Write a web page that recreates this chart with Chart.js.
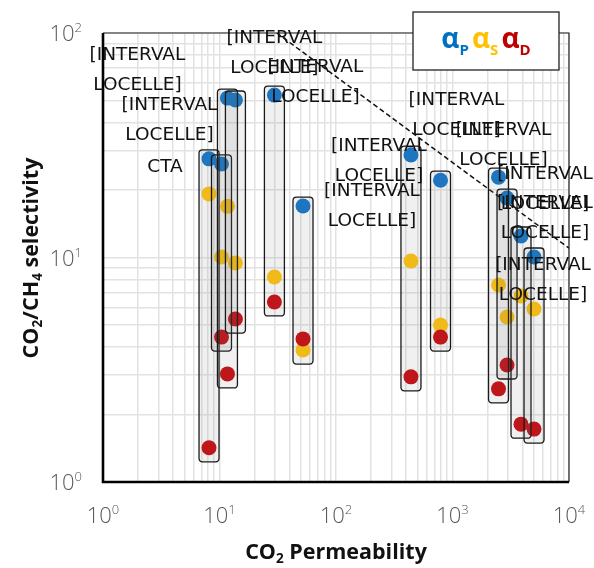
<!DOCTYPE html>
<html><head><meta charset="utf-8">
<script src="https://cdn.jsdelivr.net/npm/chart.js@4.4.1/dist/chart.umd.min.js"></script>
<style>html,body{margin:0;padding:0;background:#fff}canvas{display:block}</style>
</head><body>
<canvas id="c" width="594" height="568"></canvas>
<script>
// ---- data ----
const permeability = [8.13, 10.4, 11.7, 13.7, 29.6, 52.1, 440, 789, 2483, 2938, 3873, 5010];
const alphaP = [27.5, 26.1, 51.3, 50.3, 52.9, 16.95, 28.6, 22.1, 22.8, 18.4, 12.47, 10.05];
const alphaS = [19.2, 10.05, 16.9, 9.45, 8.19, 3.87, 9.65, 5.0, 7.54, 5.43, 6.74, 5.90];
const alphaD = [1.42, 4.42, 3.03, 5.32, 6.34, 4.34, 2.94, 4.42, 2.60, 3.32, 1.81, 1.72];
const pointLabels = ['CTA', '[INTERVAL\nLOCELLE]', '[INTERVAL\nLOCELLE]', '[INTERVAL\nLOCELLE]',
  '[INTERVAL\nLOCELLE]', '[INTERVAL\nLOCELLE]', '[INTERVAL\nLOCELLE]', '[INTERVAL\nLOCELLE]',
  '[INTERVAL\nLOCELLE]', '[INTERVAL\nLOCELLE]', '[INTERVAL\nLOCELLE]', '[INTERVAL\nLOCELLE]'];
const boundPerm = [31, 10000];
const boundSel = [100, 11];
const xTickValues = [1, 10, 100, 1000, 10000];
const yTickValues = [1, 10, 100];
const xTitle = [['CO', 'n'], ['2', 's'], [' Permeability', 'n']];
const yTitle = [['CO', 'n'], ['2', 's'], ['/CH', 'n'], ['4', 's'], [' selectivity', 'n']];
const legendItems = [['P', '#0070C0'], ['S', '#FFC000'], ['D', '#C00000']];

// ---- styles ----
const labelOffsets = [[-44, 8], [-52, -44], [-90, -28], [80, -18], [0, -42], [69, 0], [-32, 6], [16, -65], [5, -32], [38, -9], [24, -18], [9, 23]];
const COL_P = '#1578c9', COL_S = '#ffc310', COL_D = '#c80d12';

function minorTicks(lo, hi) {
  const t = [];
  for (let e = lo; e < hi; e++) for (let m = 1; m <= 9; m++) t.push({ value: m * Math.pow(10, e) });
  t.push({ value: Math.pow(10, hi) });
  return t;
}

function drawRich(ctx, parts, x, y, align) {
  let w = 0;
  parts.forEach(p => { ctx.font = p.font; w += ctx.measureText(p.t).width; });
  let cx = align === 'center' ? x - w / 2 : (align === 'right' ? x - w : x);
  ctx.textAlign = 'left'; ctx.textBaseline = 'alphabetic';
  parts.forEach(p => {
    ctx.font = p.font;
    if (p.color) ctx.fillStyle = p.color;
    ctx.fillText(p.t, cx, y + (p.dy || 0));
    cx += ctx.measureText(p.t).width;
  });
}

function roundRect(ctx, x, y, w, h, r) {
  ctx.beginPath();
  ctx.moveTo(x + r, y);
  ctx.lineTo(x + w - r, y); ctx.quadraticCurveTo(x + w, y, x + w, y + r);
  ctx.lineTo(x + w, y + h - r); ctx.quadraticCurveTo(x + w, y + h, x + w - r, y + h);
  ctx.lineTo(x + r, y + h); ctx.quadraticCurveTo(x, y + h, x, y + h - r);
  ctx.lineTo(x, y + r); ctx.quadraticCurveTo(x, y, x + r, y);
  ctx.closePath();
}

const decor = {
  id: 'decor',
  beforeDatasetsDraw(chart) {
    const { ctx, chartArea: a } = chart;
    ctx.save();
    ctx.strokeStyle = '#222'; ctx.lineWidth = 1.2;
    ctx.beginPath(); ctx.moveTo(a.left, a.top); ctx.lineTo(a.right, a.top); ctx.lineTo(a.right, a.bottom); ctx.stroke();
    ctx.strokeStyle = '#000'; ctx.lineWidth = 2.6;
    ctx.beginPath(); ctx.moveTo(a.left, a.top); ctx.lineTo(a.left, a.bottom); ctx.lineTo(a.right, a.bottom); ctx.stroke();
    ctx.restore();
  },
  afterDatasetsDraw(chart) {
    const { ctx } = chart;
    const xs = chart.scales.x, ys = chart.scales.y;
    ctx.save();
    // boxes enclosing each membrane's three selectivities
    permeability.forEach((p, i) => {
      const x = xs.getPixelForValue(p);
      const top = ys.getPixelForValue(Math.max(alphaP[i], alphaS[i], alphaD[i])) - 9;
      const bot = ys.getPixelForValue(Math.min(alphaP[i], alphaS[i], alphaD[i])) + 14;
      roundRect(ctx, x - 10, top, 20, bot - top, 3.5);
      ctx.fillStyle = 'rgba(110,110,110,0.1)';
      ctx.fill();
      ctx.strokeStyle = '#1a1a1a'; ctx.lineWidth = 1.3;
      ctx.stroke();
    });
    // data labels
    ctx.fillStyle = '#111';
    ctx.font = '18.5px "DejaVu Sans"';
    ctx.textAlign = 'center'; ctx.textBaseline = 'middle';
    permeability.forEach((p, i) => {
      const x = xs.getPixelForValue(p) + labelOffsets[i][0];
      const y = ys.getPixelForValue(alphaP[i]) + labelOffsets[i][1];
      const lines = pointLabels[i].split('\n');
      const lh = 29.5;
      lines.forEach((ln, k) => ctx.fillText(ln, x, y + (k - (lines.length - 1) / 2) * lh));
    });
    ctx.restore();
  },
  afterDraw(chart) {
    const { ctx, chartArea: a } = chart;
    const xs = chart.scales.x, ys = chart.scales.y;
    ctx.save();
    const big = '300 22px "Open Sans"', small = '300 13px "Open Sans"';
    ctx.fillStyle = '#595959';
    xTickValues.forEach(v => {
      const e = Math.round(Math.log10(v));
      drawRich(ctx, [{ t: '10', font: big }, { t: String(e), font: small, dy: -9 }], xs.getPixelForValue(v), 523, 'center');
    });
    yTickValues.forEach(v => {
      const e = Math.round(Math.log10(v));
      drawRich(ctx, [{ t: '10', font: big }, { t: String(e), font: small, dy: -9 }], 82, ys.getPixelForValue(v) + 8, 'right');
    });
    // axis titles
    const tf = { n: 'bold 21.5px "Open Sans"', s: 'bold 13.5px "Open Sans"' };
    ctx.fillStyle = '#111';
    drawRich(ctx, xTitle.map(([t, k]) => ({ t, font: tf[k], dy: k === 's' ? 4 : 0 })), (a.left + a.right) / 2, 559, 'center');
    ctx.save();
    ctx.translate(38, 258); ctx.rotate(-Math.PI / 2);
    drawRich(ctx, yTitle.map(([t, k]) => ({ t, font: tf[k], dy: k === 's' ? 4 : 0 })), 0, 0, 'center');
    ctx.restore();
    // legend box
    ctx.fillStyle = '#fff'; ctx.strokeStyle = '#222'; ctx.lineWidth = 1.3;
    ctx.fillRect(413, 12, 146, 58); ctx.strokeRect(413, 12, 146, 58);
    const parts = [];
    legendItems.forEach(([s, c], i) => {
      parts.push({ t: '\u03b1', font: 'bold 28px "Open Sans"', color: c });
      parts.push({ t: s, font: 'bold 15px "Open Sans"', color: c, dy: 7 });
      if (i < legendItems.length - 1) parts.push({ t: ' ', font: 'bold 12px "Open Sans"' });
    });
    drawRich(ctx, parts, 486, 48, 'center');
    ctx.restore();
  }
};

const pts = arr => permeability.map((p, i) => ({ x: p, y: arr[i] }));

new Chart(document.getElementById('c'), {
  type: 'scatter',
  data: {
    datasets: [
      { label: 'αD', data: pts(alphaD), backgroundColor: COL_D, borderWidth: 0, pointRadius: 7.5, order: 0 },
      { label: 'αS', data: pts(alphaS), backgroundColor: COL_S, borderWidth: 0, pointRadius: 7.5, order: 1 },
      { label: 'αP', data: pts(alphaP), backgroundColor: COL_P, borderWidth: 0, pointRadius: 7.5, order: 2 },
      { label: 'bound', data: boundPerm.map((p, i) => ({ x: p, y: boundSel[i] })), showLine: true, pointRadius: 0,
        borderColor: '#111', borderWidth: 1.5, borderDash: [5, 3], order: 3 }
    ]
  },
  options: {
    responsive: false, animation: false, devicePixelRatio: 1,
    layout: { padding: { left: 103, right: 25, top: 33, bottom: 86 } },
    plugins: { legend: { display: false }, tooltip: { enabled: false } },
    scales: {
      x: { type: 'logarithmic', min: 1, max: 10000,
        afterBuildTicks: s => { s.ticks = minorTicks(0, 4); },
        ticks: { display: false },
        grid: { color: '#e2e2e2', lineWidth: 1.5, drawTicks: false },
        border: { display: false } },
      y: { type: 'logarithmic', min: 1, max: 100,
        afterBuildTicks: s => { s.ticks = minorTicks(0, 2); },
        ticks: { display: false },
        grid: { color: '#e2e2e2', lineWidth: 1.5, drawTicks: false },
        border: { display: false } }
    }
  },
  plugins: [decor]
});
</script>
</body></html>
